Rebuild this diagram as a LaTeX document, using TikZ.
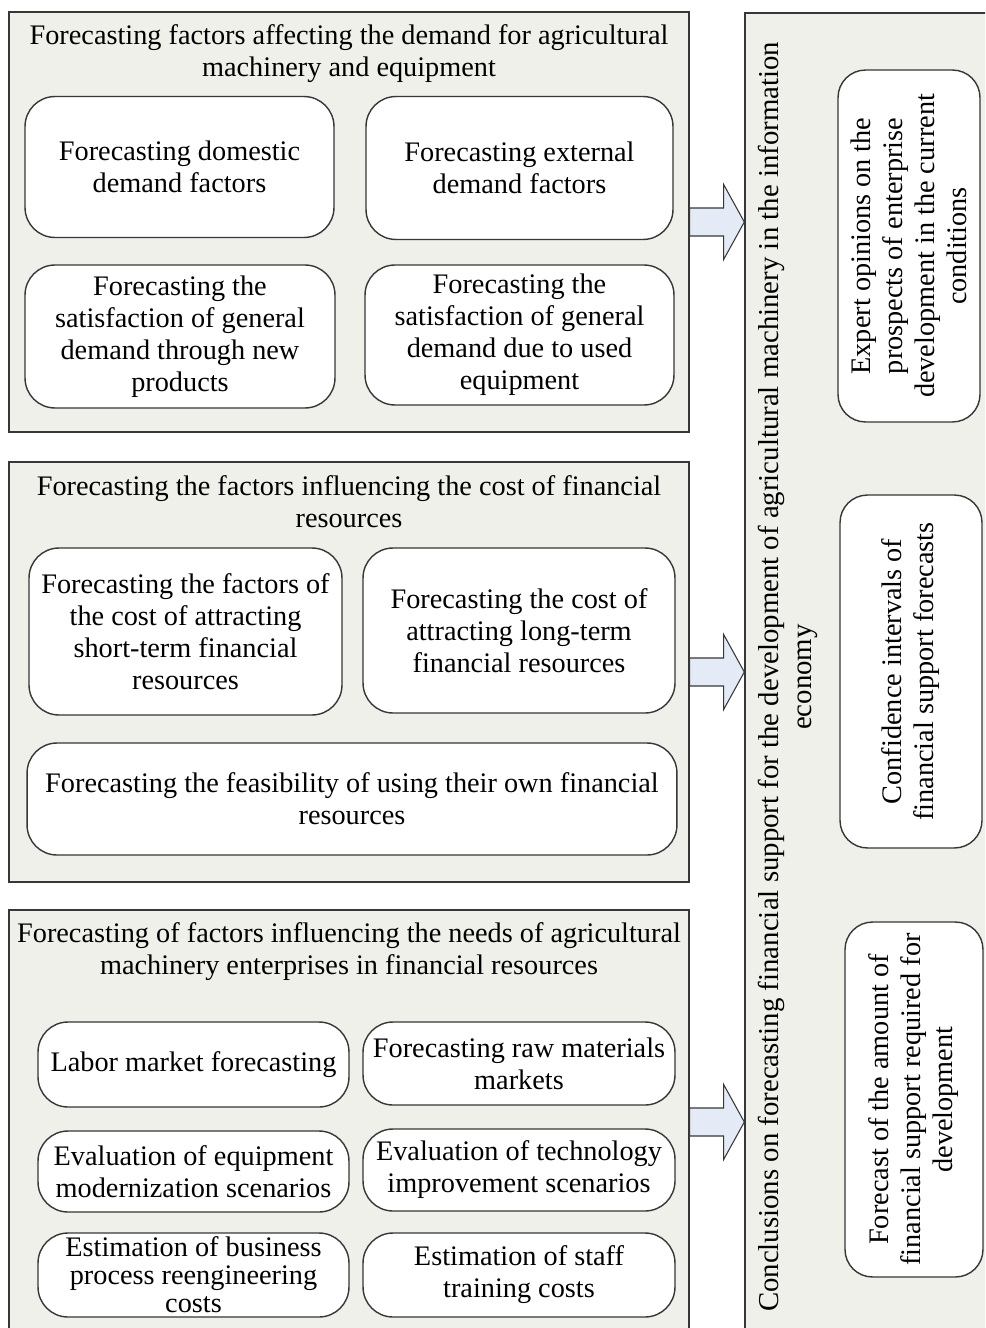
\documentclass[tikz,border=0pt]{standalone}
\usepackage{xcolor}
\usepackage{fontspec}
\setmainfont{Liberation Serif}
\usepackage{tikz}
\usetikzlibrary{calc}
\usetikzlibrary{positioning,shapes.geometric}

\definecolor{linecol}{RGB}{55,55,55}
\definecolor{grpfill}{RGB}{240,240,234}
\definecolor{arrowfill}{RGB}{228,234,246}
\newcommand{\boxfont}{\fontsize{16.1pt}{18.2pt}\selectfont}
\newcommand{\tightfont}{\fontsize{16.1pt}{16pt}\selectfont}
\newcommand{\conclfont}{\fontsize{16.4pt}{18.6pt}\selectfont}

\tikzset{
  grpbox/.style={draw=linecol, fill=grpfill, line width=0.8pt, inner sep=0pt},
  grptitle/.style={align=center, font=\boxfont, inner sep=0pt},
  itembox/.style={draw=linecol, fill=white, line width=0.8pt, rounded corners=0.6cm,
    align=center, font=\boxfont, inner sep=0pt},
  sidebox/.style={itembox, rounded corners=0.55cm, rotate=90},
  blockarrow/.style={draw=linecol, fill=arrowfill, line width=0.6pt, line join=miter}
}

\begin{document}
\begin{tikzpicture}[x=0.02cm, y=-0.02cm]% coordinates in pixels, y downwards
\useasboundingbox (0,0) rectangle (985,1328);
\fill[white] (0,0) rectangle (985,1328);
\clip (0,0) rectangle (985,1328);

% demand factors
\begin{scope}
  \node[grpbox, minimum width=13.6cm, minimum height=8.4cm] (grpdemand) at (349,222) {};
  \node[grptitle] (tdemand) at ($(grpdemand.north)+(0,42)$)
    {Forecasting factors affecting the demand for agricultural\\machinery and equipment};
  \node[itembox, minimum width=6.18cm, minimum height=2.82cm] (dom) at (179.5,167)
    {Forecasting domestic\\demand factors};
  \node[itembox, minimum width=6.14cm, minimum height=2.86cm] (ext) at (519.5,168)
    {Forecasting external\\demand factors};
  \node[itembox, minimum width=6.2cm, minimum height=2.86cm] (newprod) at (180,336.5)
    {Forecasting the\\satisfaction of general\\demand through new\\products};
  \node[itembox, minimum width=6.18cm, minimum height=2.8cm] (usedeq) at (519.5,335)
    {Forecasting the\\satisfaction of general\\demand due to used\\equipment};
\end{scope}

% cost of financial resources
\begin{scope}
  \node[grpbox, minimum width=13.6cm, minimum height=8.4cm] (grpcost) at (349,672) {};
  \node[grptitle] (tcost) at ($(grpcost.north)+(0,40.5)$)
    {Forecasting the factors influencing the cost of financial\\resources};
  \node[itembox, minimum width=6.26cm, minimum height=3.34cm] (shortterm) at (185.5,631.5)
    {Forecasting the factors of\\the cost of attracting\\short-term financial\\resources};
  \node[itembox, minimum width=6.24cm, minimum height=3.3cm] (longterm) at (519,630.5)
    {Forecasting the cost of\\attracting long-term\\financial resources};
  \node[itembox, minimum width=13cm, minimum height=2.24cm] (own) at (352,799)
    {Forecasting the feasibility of using their own financial\\resources};
\end{scope}

% needs in financial resources
\begin{scope}
  \node[grpbox, minimum width=13.6cm, minimum height=8.48cm] (grpneeds) at (349,1122) {};
  \node[grptitle] (tneeds) at ($(grpneeds.north)+(0,42.5)$)
    {Forecasting of factors influencing the needs of agricultural\\machinery enterprises in financial resources};
  \node[itembox, minimum width=6.22cm, minimum height=1.7cm] (labor) at (193.5,1064.5)
    {Labor market forecasting};
  \node[itembox, minimum width=6.24cm, minimum height=1.66cm] (raw) at (519,1063.5)
    {Forecasting raw materials\\markets};
  \node[itembox, minimum width=6.22cm, minimum height=1.62cm] (equip) at (193.5,1171.5)
    {Evaluation of equipment\\modernization scenarios};
  \node[itembox, minimum width=6.24cm, minimum height=1.64cm] (tech) at (519,1170)
    {Evaluation of technology\\improvement scenarios};
  \node[itembox, font=\tightfont, minimum width=6.22cm, minimum height=1.68cm] (bpr) at (193.5,1275)
    {Estimation of business\\process reengineering\\costs};
  \node[itembox, minimum width=6.24cm, minimum height=1.68cm] (staff) at (519,1275)
    {Estimation of staff\\training costs};
\end{scope}

% conclusions
\node[grpbox, minimum width=5.1cm, minimum height=26.64cm] (concl) at (872.5,679) {};
\node[grptitle, font=\conclfont, rotate=90] (tconcl) at (788,677)
  {Conclusions on forecasting financial support for the development of agricultural machinery in the information\\economy};
\node[sidebox, minimum width=7.04cm, minimum height=2.84cm] (expert) at (909,246)
  {Expert opinions on the\\prospects of enterprise\\development in the current\\conditions};
\node[sidebox, minimum width=7.06cm, minimum height=2.84cm] (conf) at (911,671.5)
  {Confidence intervals of\\financial support forecasts};
\node[sidebox, minimum width=7.1cm, minimum height=2.76cm] (amount) at (914,1099.5)
  {Forecast of the amount of\\financial support required for\\development};

% block arrows
\foreach \g in {grpdemand,grpcost,grpneeds}{
  \draw[blockarrow] ($(\g.east)+(0,-14)$) -- ++(34,0) -- ++(0,-23.5)
    -- (\g.east -| concl.west) -- ($(\g.east)+(34,37.5)$) -- ++(0,-23.5)
    -- ($(\g.east)+(0,14)$) -- cycle;
}
\end{tikzpicture}
\end{document}
